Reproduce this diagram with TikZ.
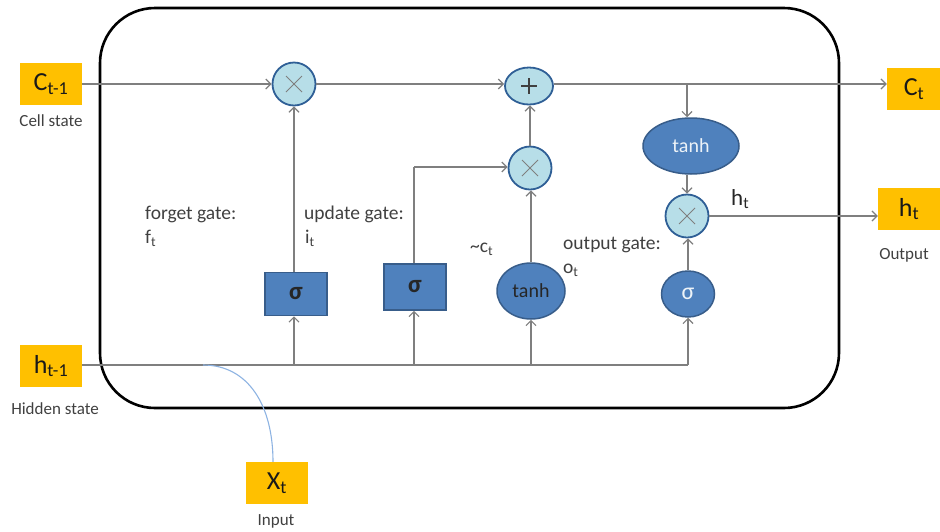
\documentclass[tikz,border=0pt]{standalone}
\usepackage{fontspec}
\setmainfont{Carlito}
\usetikzlibrary{arrows.meta,shapes.geometric}
\definecolor{gold}{HTML}{FFC000}
\definecolor{opfill}{HTML}{B7DEE8}
\definecolor{opedge}{HTML}{2F5F96}
\definecolor{gatefill}{HTML}{4F81BD}
\definecolor{gateedge}{HTML}{385D8A}
\definecolor{wire}{HTML}{7F7F7F}
\definecolor{labelgray}{HTML}{404040}
\definecolor{inputblue}{HTML}{8DB3E2}
\newcommand\sub[1]{\textsubscript{#1}}
\newcommand\fs[1]{\fontsize{#1}{#1}\selectfont}
\begin{document}
\begin{tikzpicture}[x=1pt,y=-1pt,
  tip/.style={-{Straight Barb[length=5pt,width=10pt,line width=1.2pt]}},
  wireline/.style={draw=wire,line width=1.2pt},
  flow/.style={wireline,tip},
  statebox/.style={fill=gold,minimum width=62,minimum height=42,inner sep=0pt,font=\fs{26},text=black!90},
  caption/.style={font=\fs{17},text=labelgray},
  gatelabel/.style={font=\fs{19.5},text=labelgray,anchor=west,inner sep=0pt},
  opnode/.style={circle,draw=opedge,line width=1.8pt,fill=opfill,minimum size=43,inner sep=0pt},
  mulnode/.style={opnode,path picture={\draw[wire,line width=1pt]
      (path picture bounding box.center) ++(-8,-8) -- ++(16,16)
      (path picture bounding box.center) ++(-8,8) -- ++(16,-16);}},
  addnode/.style={opnode,ellipse,minimum width=48,minimum height=37,path picture={\draw[black!75,line width=1.2pt]
      (path picture bounding box.center) ++(-8,0) -- ++(16,0)
      (path picture bounding box.center) ++(0,-8) -- ++(0,16);}},
  sigbox/.style={rectangle,draw=gateedge,line width=1.5pt,fill=gatefill,minimum width=62,inner sep=0pt,font=\fs{25}\bfseries,text=black!85},
  gateoval/.style={ellipse,draw=gateedge,line width=1.5pt,fill=gatefill,inner sep=0pt,font=\fs{20}},
]
\useasboundingbox (0,0) rectangle (940,531);

% cell boundary
\draw[line width=2.6pt,rounded corners=55] (100,8) rectangle (839,408);

% states outside the cell
\node[statebox] (cprev) at (51,84) {C\sub{t-1}};
\node[caption] (cprevcap) at (51,121) {Cell state};
\node[statebox] (hprev) at (51,366) {h\sub{t-1}};
\node[caption] (hprevcap) at (55,409) {Hidden state};
\node[statebox] (xt) at (277,483) {X\sub{t}};
\node[caption] (xtcap) at (276,521) {Input};
\node[statebox,minimum width=54] (ct) at (914,89) {C\sub{t}};
\node[statebox] (ht) at (909,209) {h\sub{t}};
\node[caption] (htcap) at (904,255) {Output};

% pointwise operations
\node[mulnode] (m1) at (294,84) {};
\node[addnode] (add) at (529,86) {};
\node[mulnode] (m2) at (530,168) {};
\node[mulnode] (m3) at (687,216) {};

% gates
\node[sigbox,minimum height=43] (sf) at (296,294) {σ};
\node[sigbox,minimum height=46] (si) at (415,287) {σ};
\node[gateoval,minimum width=68,minimum height=56,text=black!85] (tc) at (531,291) {tanh};
\node[gateoval,minimum width=96,minimum height=56,text=white!90!gatefill] (th) at (691,146) {tanh};
\node[gateoval,minimum width=53,minimum height=46,text=white!90!gatefill,font=\fs{24}] (so) at (688,294) {σ};

% gate labels
\node[gatelabel] (lf) at (145,214) {forget gate:};
\node[gatelabel] (lf2) at (145,238) {f\sub{t}};
\node[gatelabel] (li) at (304,214) {update gate:};
\node[gatelabel] (li2) at (305,238) {i\sub{t}};
\node[gatelabel] (lc) at (470,249) {\textasciitilde c\sub{t}};
\node[gatelabel] (lo) at (563,245) {output gate:};
\node[gatelabel] (lo2) at (563,270) {o\sub{t}};
\node[gatelabel,font=\fs{23},text=black!85] (lh) at (731,199) {h\sub{t}};

% cell state path
\draw[flow] (cprev.east |- 0,84) -- (m1.west);
\draw[flow] (m1.east) -- (add.west |- m1);
\draw[flow] (add.east |- 0,84) -- (ct.west |- 0,84);
\coordinate (tap) at (687,84);
\draw[flow] (tap) -- (th.north -| tap);
\draw[flow] (th.south -| m3) -- (m3.north);
\draw[flow] (m3.east) -- (ht.west |- m3);

% hidden state / input bus
\coordinate (busend) at (688,365);
\draw[wireline] (hprev.east |- busend) -- (busend);
\coordinate (xjoin) at (203,365);
\draw[inputblue,line width=1.1pt] (xjoin) .. controls (248,365) and (273,405) .. (xt.north -| 273,0);

% bus to gates
\draw[flow] (294,365) -- (sf.south -| 294,0);
\draw[flow] (sf.north -| 294,0) -- (m1.south);
\draw[flow] (414,365) -- (si.south -| 414,0);
\coordinate (ibend) at (414,167);
\draw[wireline] (si.north -| 414,0) -- (ibend);
\draw[flow] (ibend) -- (m2.west |- ibend);
\draw[flow] (531,365) -- (tc.south);
\draw[flow] (tc.north) -- (m2.south -| tc.north);
\draw[flow] (m2.north) -- (add.south -| m2.north);
\draw[flow] (busend) -- (so.south -| busend);
\draw[flow] (so.north) -- (m3.south -| so.north);
\end{tikzpicture}
\end{document}
